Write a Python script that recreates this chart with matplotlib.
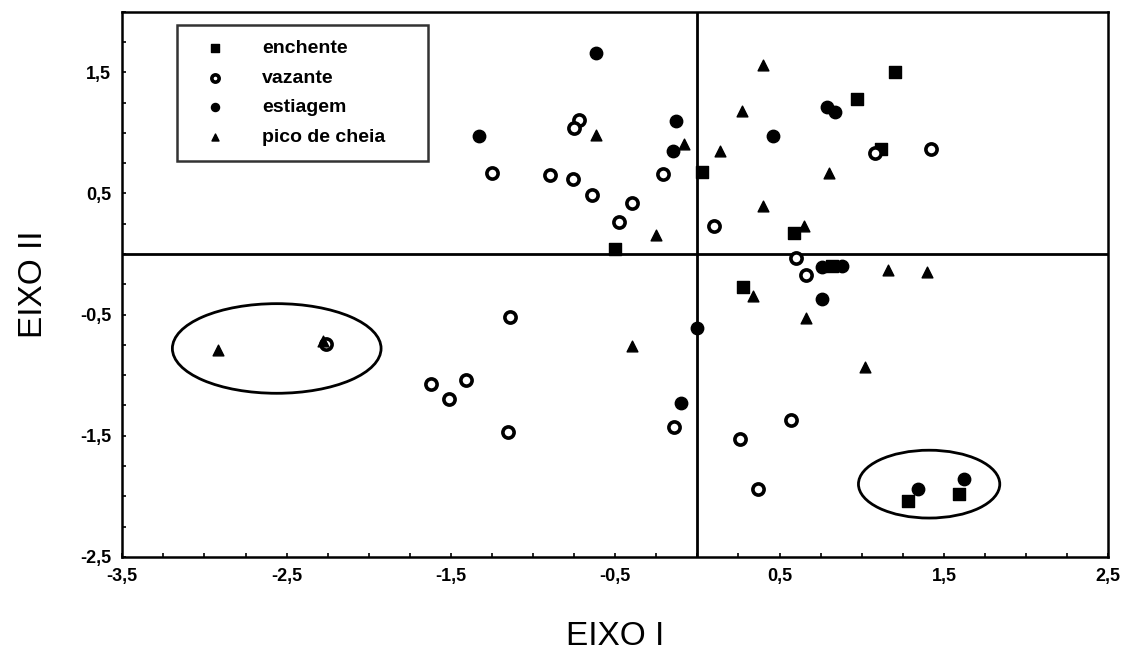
import numpy as np
import matplotlib
matplotlib.use("Agg")
import matplotlib.pyplot as plt
from matplotlib.patches import Ellipse
from matplotlib.ticker import FixedLocator, FuncFormatter

plt.rcParams['font.family'] = ['Liberation Sans', 'DejaVu Sans']

# enchente (quadrados cheios)
enchente_x = [1.20, 0.97, 1.12, 0.03, -0.50, 0.59, 0.28, 0.82, 1.59, 1.28]
enchente_y = [1.50, 1.28, 0.87, 0.68, 0.04, 0.17, -0.27, -0.10, -1.98, -2.04]

# vazante (circulos abertos)
vazante_x = [-0.72, -0.75, -1.25, -0.90, -0.76, -0.64, -0.40, -0.48, -0.21, 0.10,
             1.08, 1.42, 0.60, 0.66, -2.26, -1.14, -1.62, -1.41, -1.51, -1.15,
             -0.14, 0.57, 0.26, 0.37]
vazante_y = [1.11, 1.04, 0.67, 0.65, 0.62, 0.49, 0.42, 0.26, 0.66, 0.23,
             0.83, 0.87, -0.03, -0.17, -0.74, -0.52, -1.07, -1.04, -1.20, -1.47,
             -1.43, -1.37, -1.53, -1.94]

# estiagem (circulos cheios)
estiagem_x = [-0.62, -1.33, -0.13, -0.15, 0.79, 0.84, 0.46, 0.76, 0.88, 0.76,
              0.00, -0.10, 1.34, 1.62]
estiagem_y = [1.66, 0.97, 1.10, 0.85, 1.21, 1.17, 0.97, -0.11, -0.10, -0.37,
              -0.61, -1.23, -1.94, -1.86]

# pico de cheia (triangulos)
pico_x = [0.40, 0.27, -0.62, -0.08, 0.14, 0.80, 0.40, -0.25, 0.65, 1.16,
          1.40, 0.34, 0.66, 1.02, -0.40, -2.92, -2.28]
pico_y = [1.56, 1.18, 0.98, 0.91, 0.85, 0.67, 0.40, 0.16, 0.23, -0.13,
          -0.15, -0.35, -0.53, -0.93, -0.76, -0.79, -0.72]

# elipses de destaque: centro x, centro y, largura, altura
elipse_cx = [-2.56, 1.41]
elipse_cy = [-0.78, -1.90]
elipse_w = [1.27, 0.86]
elipse_h = [0.74, 0.56]

fig = plt.figure(figsize=(11.32, 6.52), dpi=100)
ax = fig.add_axes([0.108, 0.146, 0.871, 0.836])

ax.scatter(enchente_x, enchente_y, marker='s', s=75, c='k', label='enchente', zorder=3)
ax.scatter(vazante_x, vazante_y, marker='o', s=65, facecolors='white', edgecolors='k',
           linewidths=2.6, label='vazante', zorder=3)
ax.scatter(estiagem_x, estiagem_y, marker='o', s=80, c='k', label='estiagem', zorder=3)
ax.scatter(pico_x, pico_y, marker='^', s=60, c='k', label='pico de cheia', zorder=3)

for cx, cy, w, h in zip(elipse_cx, elipse_cy, elipse_w, elipse_h):
    ax.add_patch(Ellipse((cx, cy), w, h, fill=False, edgecolor='k', lw=2))

ax.axhline(0, color='k', lw=2, zorder=2)
ax.axvline(0, color='k', lw=2, zorder=2)

ax.set_xlim(-3.5, 2.5)
ax.set_ylim(-2.5, 2.0)

xt = np.arange(-3.5, 2.51, 0.25)
yt = np.arange(-2.5, 2.01, 0.25)
ax.xaxis.set_major_locator(FixedLocator(xt))
ax.yaxis.set_major_locator(FixedLocator(yt))


def fmt(v, pos):
    r = (v - 0.5) % 1.0
    if r < 1e-6 or abs(r - 1.0) < 1e-6:
        return ('%.1f' % v).replace('.', ',')
    return ''


ax.xaxis.set_major_formatter(FuncFormatter(fmt))
ax.yaxis.set_major_formatter(FuncFormatter(fmt))
ax.tick_params(direction='in', length=3, width=1.2, labelsize=13, pad=8)
for lab in ax.get_xticklabels() + ax.get_yticklabels():
    lab.set_fontweight('bold')
for sp in ax.spines.values():
    sp.set_linewidth(1.8)

ax.set_xlabel('EIXO I', fontsize=24, labelpad=26)
ax.set_ylabel('EIXO II', fontsize=24, labelpad=22)

leg = ax.legend(loc='upper left', bbox_to_anchor=(0.056, 0.72, 0.254, 0.256),
                mode='expand', frameon=True, fancybox=False, edgecolor='k',
                prop={'weight': 'bold', 'size': 14}, markerscale=0.65,
                labelspacing=0.62, handletextpad=1.2, borderpad=0.75,
                borderaxespad=0, handlelength=2.4)
leg.get_frame().set_linewidth(1.8)

fig.savefig('out.png', dpi=100)
